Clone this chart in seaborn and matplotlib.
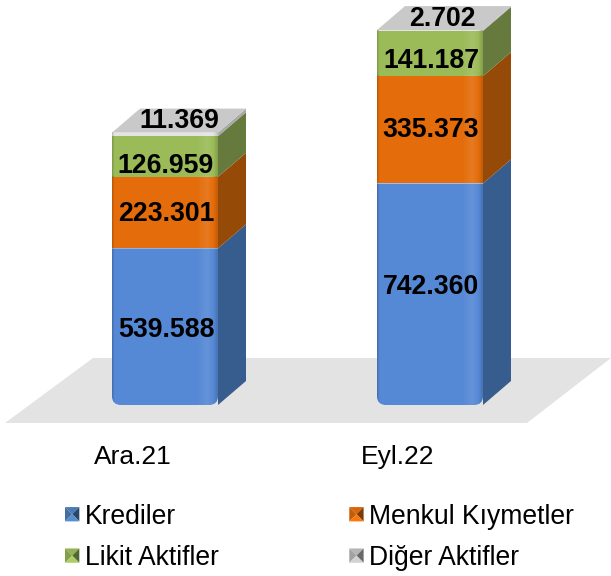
import numpy as np
import matplotlib
matplotlib.use('Agg')
import matplotlib.pyplot as plt
import seaborn as sns
from matplotlib.legend_handler import HandlerBase
from matplotlib.patches import Patch, Polygon
from matplotlib.path import Path
from matplotlib.transforms import IdentityTransform

# ── Data ──────────────────────────────────────────────────────────────────────
DONEMLER = ['Ara.21', 'Eyl.22']
KREDILER = [539588, 742360]
MENKUL = [223301, 335373]
LIKIT = [126959, 141187]
DIGER = [11369, 2702]
SERI_ADLARI = ['Krediler', 'Menkul Kıymetler', 'Likit Aktifler', 'Diğer Aktifler']
ETIKETLER = [['539.588', '742.360'], ['223.301', '335.373'],
             ['126.959', '141.187'], ['11.369', '2.702']]

# ── Style ─────────────────────────────────────────────────────────────────────
ON_RENK = ['#5588d5', '#e46c0a', '#9bbb59', '#e4e4e4']
YAN_RENK = ['#375d8e', '#964a07', '#667a3d', '#a8a8a8']
UST_RENK = '#c9c9c9'
ZEMIN_RENK = '#e3e3e3'

W, H = 611, 576
PX_PER_UNIT = 0.00032     # vertical scale, picture pixels per value unit
AXIS_MIN = 50000          # the value axis does not start at zero
BASE_PX = 171             # distance of the axis from the bottom of the figure
STEP_PX = 265             # distance between the two bars
DEPTH_X, DEPTH_Y = 28, 24  # oblique depth of the bars, pixels
BAR_WIDTH = 0.4
# manual label shifts (pixels, right / up positive), as placed in the source
LABEL_SHIFT_Y = [[-3, 7], [-1, 0], [-9, -7], [13, 12]]
LABEL_SHIFT_X = [[1, 1], [1, 1], [1, 1], [14, 12]]

sns.set_theme(style='white')
plt.rcParams['font.family'] = ['Liberation Sans', 'DejaVu Sans']

fig = plt.figure(figsize=(W / 100, H / 100), dpi=100)
ax = fig.add_axes([0, BASE_PX / H, 1, 1 - BASE_PX / H])

seriler = [KREDILER, MENKUL, LIKIT, DIGER]
alt = np.zeros(len(DONEMLER))
altlar = []
for vals, renk in zip(seriler, ON_RENK):
    sns.barplot(x=DONEMLER, y=vals, bottom=alt, color=renk, saturation=1,
                width=BAR_WIDTH, errorbar=None, ax=ax, zorder=3, linewidth=0)
    altlar.append(alt.copy())
    alt = alt + np.array(vals)

ax.set_xlim(-165 / STEP_PX, (W - 165) / STEP_PX)
ax.set_ylim(AXIS_MIN, AXIS_MIN + (H - BASE_PX) / PX_PER_UNIT)

dx = DEPTH_X / STEP_PX
dy = DEPTH_Y / PX_PER_UNIT

# floor under the bars
x_px = lambda p: (p - 165) / STEP_PX
y_px = lambda p: AXIS_MIN + (405 - p) / PX_PER_UNIT
ax.add_patch(Polygon([(x_px(5), y_px(423)), (x_px(93), y_px(358)),
                      (x_px(611), y_px(358)), (x_px(527), y_px(423))],
                     closed=True, fc=ZEMIN_RENK, ec='none', clip_on=False, zorder=1))

# horizontal shading of the front faces
u = np.linspace(0, 1, 200)
isik = np.interp(u, [0, 0.02, 0.80, 0.90, 0.96, 1], [-0.2, 0, 0, 0.1, 0, -0.15])
golge = np.zeros((1, 200, 4))
golge[..., :3] = (isik[None, :, None] > 0).astype(float)
golge[..., 3] = np.abs(isik)

fig.canvas.draw()
for s, (vals, alts) in enumerate(zip(seriler, altlar)):
    bars = ax.containers[s]
    for i, rect in enumerate(bars):
        x1 = rect.get_x() + rect.get_width()
        y0 = max(alts[i], AXIS_MIN)
        y1 = alts[i] + vals[i]
        # side face
        ax.add_patch(Polygon([(x1, y0), (x1 + dx, y0 + dy), (x1 + dx, y1 + dy), (x1, y1)],
                             closed=True, fc=YAN_RENK[s], ec='none', clip_on=False, zorder=2))
        im = ax.imshow(golge, extent=(rect.get_x(), x1, y0, y1), aspect='auto',
                       zorder=3.5, interpolation='bilinear')
        if s == 0:
            # rounded lower corners of the front face
            (a, b), (c, d) = ax.transData.transform([(rect.get_x(), y0), (x1, y1)])
            r = 9
            yol = Path([(a, d), (a, b + r), (a, b), (a + r, b), (c - r, b), (c, b),
                        (c, b + r), (c, d), (a, d)],
                       [Path.MOVETO, Path.LINETO, Path.CURVE3, Path.CURVE3, Path.LINETO,
                        Path.CURVE3, Path.CURVE3, Path.LINETO, Path.CLOSEPOLY])
            rect.set_clip_path(yol, IdentityTransform())
            im.set_clip_path(yol, IdentityTransform())
        if s == 3:
            # top face
            x0 = rect.get_x()
            ax.add_patch(Polygon([(x0, y1), (x1, y1), (x1 + dx, y1 + dy), (x0 + dx, y1 + dy)],
                                 closed=True, fc=UST_RENK, ec='none', clip_on=False, zorder=2.5))

# value labels
for s, (vals, alts) in enumerate(zip(seriler, altlar)):
    for i in range(len(DONEMLER)):
        y0 = max(alts[i], AXIS_MIN)
        y_mid = (y0 + alts[i] + vals[i]) / 2
        ax.annotate(ETIKETLER[s][i], xy=(i, y_mid),
                    xytext=(LABEL_SHIFT_X[s][i] * 0.72, LABEL_SHIFT_Y[s][i] * 0.72),
                    textcoords='offset points',
                    ha='center', va='center', fontsize=19.2, fontweight='bold',
                    color='black', zorder=6, annotation_clip=False)

# category labels sit in front of the floor, to the left of the bars
ax.set_xticks(np.arange(len(DONEMLER)) - 32 / STEP_PX, DONEMLER, fontsize=19, color='black')
ax.set_yticks([])
ax.tick_params(axis='x', length=0, pad=29)
sns.despine(ax=ax, left=True, bottom=True)
ax.patch.set_alpha(0)


class PiramitHandle(HandlerBase):
    # small bevelled square of the legend
    def create_artists(self, legend, orig, xd, yd, width, height, fontsize, trans):
        renk = np.array(matplotlib.colors.to_rgb(orig.get_facecolor()))
        x0, y0 = -xd, -yd + (height - width) / 2
        x1, y1 = x0 + width, y0 + width
        xm, ym = (x0 + x1) / 2, (y0 + y1) / 2
        parcalar = [([(x0, y1), (x1, y1), (xm, ym)], 0.95),
                    ([(x0, y0), (x0, y1), (xm, ym)], 0.85),
                    ([(x1, y0), (x1, y1), (xm, ym)], 0.55),
                    ([(x0, y0), (x1, y0), (xm, ym)], 1.1)]
        return [Polygon(p, closed=True, fc=np.clip(renk * k, 0, 1), ec='none', transform=trans)
                for p, k in parcalar]


kenar = [Patch(fc=c) for c in ['#4f81bd', '#e46c0a', '#9bbb59', '#bfbfbf']]
sira = [0, 2, 1, 3]  # legend fills column by column
fig.legend([kenar[k] for k in sira], [SERI_ADLARI[k] for k in sira],
           handler_map={Patch: PiramitHandle()}, ncols=2, frameon=False,
           loc='lower left', bbox_to_anchor=(65 / W, 1 - 571 / H), borderpad=0,
           borderaxespad=0, prop={'size': 19.1}, handlelength=0.54, handleheight=0.54,
           handletextpad=0.2, columnspacing=4.93, labelspacing=0.58, labelcolor='black')

fig.savefig('out.png', dpi=100)
plt.close(fig)
